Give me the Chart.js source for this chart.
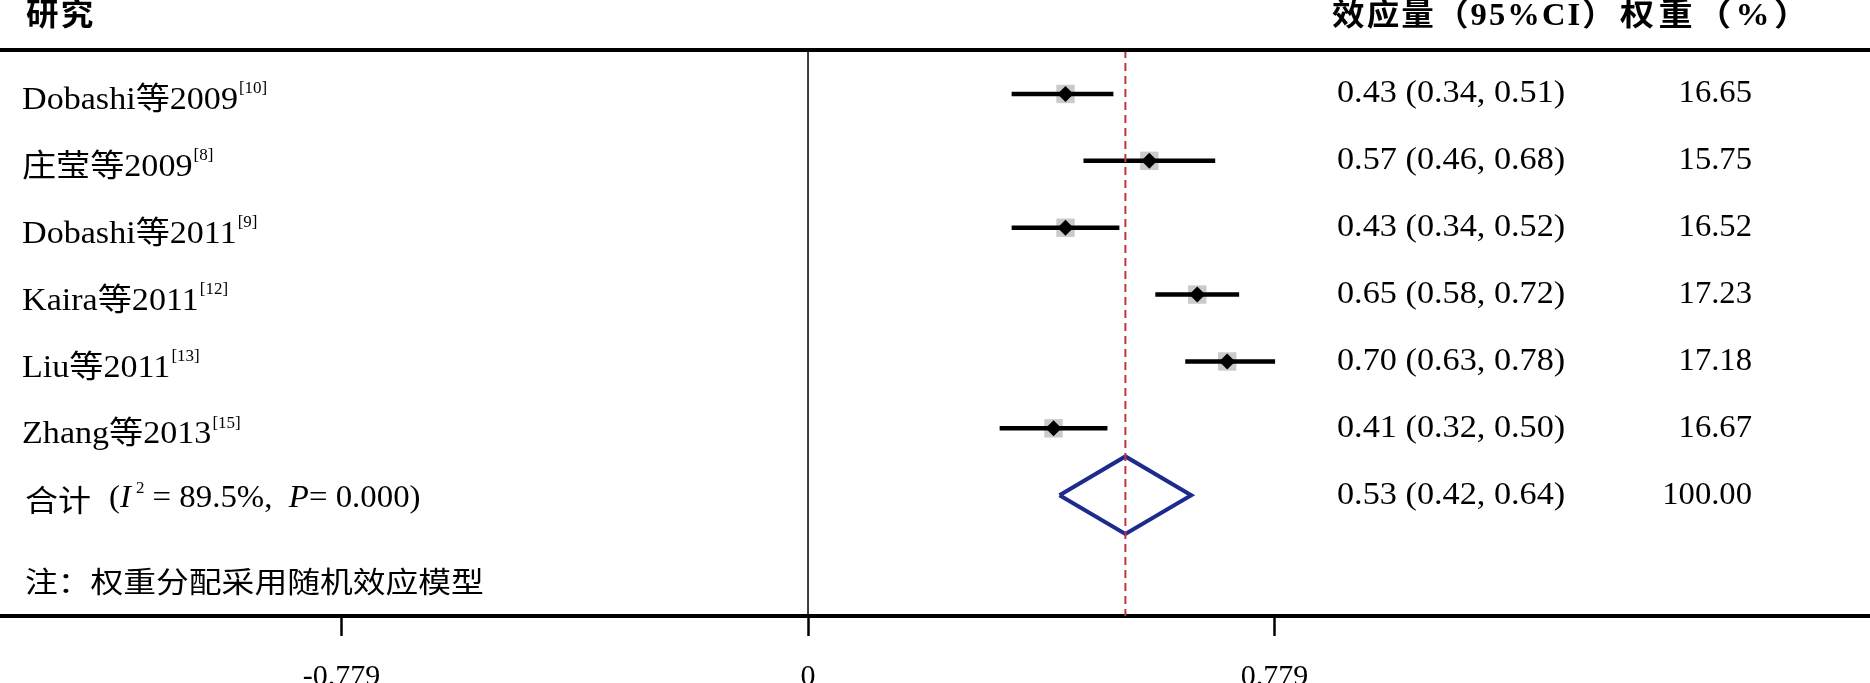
<!DOCTYPE html>
<html lang="zh-CN">
<head>
    <meta charset="UTF-8">
    <title>森林图 | 效应量</title>
    <script src="https://cdn.jsdelivr.net/npm/chart.js"></script>
    <style>
        html, body { margin: 0; padding: 0; background: #fff; }
        #box { width: 1870px; height: 683px; }
    </style>
</head>
<body>
    <div id="box">
        <canvas id="forestCanvas" width="1870" height="683"></canvas>
    </div>
</body>
</html>

<script>
    // dados dos estudos
    const estudos = ['Dobashi等2009', '庄莹等2009', 'Dobashi等2011', 'Kaira等2011', 'Liu等2011', 'Zhang等2013'];
    const refs = ['[10]', '[8]', '[9]', '[12]', '[13]', '[15]'];
    const efeito = [0.43, 0.57, 0.43, 0.65, 0.70, 0.41];
    const ciLow = [0.34, 0.46, 0.34, 0.58, 0.63, 0.32];
    const ciHigh = [0.51, 0.68, 0.52, 0.72, 0.78, 0.50];
    const pesos = ['16.65', '15.75', '16.52', '17.23', '17.18', '16.67'];

    // combinado
    const pooledEst = 0.53;
    const pooledLow = 0.42;
    const pooledHigh = 0.64;
    const pooledPeso = '100.00';
    const iQuadrado = '89.5%';
    const valorP = '0.000';

    const tickValues = [-0.779, 0, 0.779];
    const tickLabels = ['-0.779', '0', '0.779'];

    const SERIF = '"Liberation Serif", "Noto Sans CJK SC", serif';
    const ROW_MIN = 0.343, ROW_MAX = 8.806;
    const pooledRow = estudos.length + 1;
    const noteRow = estudos.length + 2;

    // linhas dos IC (separadas por null)
    let ciPontos = [];
    for (let i = 0; i < estudos.length; i++) {
        ciPontos.push({ x: ciLow[i], y: i + 1 });
        ciPontos.push({ x: ciHigh[i], y: i + 1 });
        ciPontos.push({ x: null, y: null });
    }
    let pontos = efeito.map((v, i) => ({ x: v, y: i + 1 }));

    const dh = 0.58; // meia altura do losango
    let losango = [
        { x: pooledLow, y: pooledRow },
        { x: pooledEst, y: pooledRow - dh },
        { x: pooledHigh, y: pooledRow },
        { x: pooledEst, y: pooledRow + dh },
        { x: pooledLow, y: pooledRow }
    ];

    function txt(ctx, s, x, y, font, sx, align, spacing) {
        ctx.save();
        ctx.font = font;
        ctx.textAlign = align || 'left';
        ctx.textBaseline = 'middle';
        ctx.letterSpacing = spacing || '0px';
        ctx.translate(x, y);
        ctx.scale(sx || 1, 1);
        ctx.fillText(s, 0, 0);
        const w = ctx.measureText(s).width * (sx || 1);
        ctx.restore();
        return w;
    }

    const textos = {
        id: 'textos',
        afterDraw(chart) {
            const ctx = chart.ctx;
            const ys = chart.scales.y;
            const area = chart.chartArea;
            ctx.save();
            ctx.fillStyle = '#000';

            // linha do topo
            ctx.fillRect(0, area.top - 2, chart.width, 4);

            // cabecalho
            const fh = 'bold 31px ' + SERIF;
            txt(ctx, '研究', 26, 17, fh, 1.05, 'left', '2px');
            txt(ctx, '效应量（95%CI）', 1332, 17, fh, 1.05, 'left', '2px');
            txt(ctx, '权重（%）', 1620, 17, fh, 1.1, 'left', '4px');

            const fl = '31px ' + SERIF;
            const fs = '17px "Liberation Serif", serif';
            const fn = '32px "Liberation Serif", serif';
            const sxl = 1.1;

            for (let i = 0; i < estudos.length; i++) {
                const yy = ys.getPixelForValue(i + 1);
                const w = txt(ctx, estudos[i], 22, yy + 7, fl, sxl);
                txt(ctx, refs[i], 22 + w + 1, yy - 5, fs, 1);
                const ef = efeito[i].toFixed(2) + ' (' + ciLow[i].toFixed(2) + ', ' + ciHigh[i].toFixed(2) + ')';
                txt(ctx, ef, 1337, yy, fn, 1.07);
                txt(ctx, pesos[i], 1752, yy, fn, 1.02, 'right');
            }

            // linha combinada
            const yp = ys.getPixelForValue(pooledRow) + 4;
            const sp = 1.06;
            let x = 25;
            x += txt(ctx, '合计', x, yp, '30px "Noto Sans CJK SC", sans-serif', 1.1);
            x += 18;
            x += txt(ctx, '(', x, yp, fl, sp);
            x += txt(ctx, 'I', x, yp, 'italic ' + fl, sp);
            x += 5;
            x += txt(ctx, '2', x, yp - 11, fs, 1);
            x += txt(ctx, ' = ' + iQuadrado + ',  ', x, yp, fl, sp);
            x += txt(ctx, 'P', x, yp, 'italic ' + fl, sp);
            txt(ctx, '= ' + valorP + ')', x, yp, fl, sp);
            const ep = pooledEst.toFixed(2) + ' (' + pooledLow.toFixed(2) + ', ' + pooledHigh.toFixed(2) + ')';
            txt(ctx, ep, 1337, yp - 4, fn, 1.07);
            txt(ctx, pooledPeso, 1752, yp - 4, fn, 1.02, 'right');

            // nota
            txt(ctx, '注：权重分配采用随机效应模型', 25, ys.getPixelForValue(noteRow) + 20,
                '29px "Noto Sans CJK SC", sans-serif', 1.13);

            ctx.restore();
        }
    };

    const config = {
        type: 'line',
        data: {
            datasets: [
                {
                    label: 'pooled',
                    data: [{ x: pooledEst, y: ROW_MIN }, { x: pooledEst, y: ROW_MAX }],
                    borderColor: '#c4343c',
                    borderWidth: 2,
                    borderDash: [8, 5],
                    pointRadius: 0,
                    order: 0
                },
                {
                    label: 'pontos',
                    type: 'scatter',
                    data: pontos,
                    pointStyle: 'rectRot',
                    pointRadius: 8,
                    backgroundColor: '#000',
                    borderWidth: 0,
                    order: 1
                },
                {
                    label: 'pesos',
                    type: 'scatter',
                    data: pontos,
                    pointStyle: 'rect',
                    pointRadius: 13,
                    backgroundColor: '#cacaca',
                    borderWidth: 0,
                    order: 3
                },
                {
                    label: 'ic',
                    data: ciPontos,
                    borderColor: '#000',
                    borderWidth: 4.5,
                    pointRadius: 0,
                    spanGaps: false,
                    order: 2
                },
                {
                    label: 'losango',
                    data: losango,
                    borderColor: '#1d2a8e',
                    borderWidth: 4,
                    pointRadius: 0,
                    fill: false,
                    order: 2
                },
                {
                    label: 'zero',
                    data: [{ x: 0, y: ROW_MIN }, { x: 0, y: ROW_MAX }],
                    borderColor: '#000',
                    borderWidth: 1.5,
                    pointRadius: 0,
                    order: 5
                }
            ]
        },
        options: {
            responsive: false,
            devicePixelRatio: 1,
            animation: false,
            layout: { autoPadding: false, padding: { top: 50, bottom: -35, left: 0, right: 0 } },
            plugins: {
                legend: { display: false },
                tooltip: { enabled: false }
            },
            scales: {
                x: {
                    type: 'linear',
                    min: -1.3494,
                    max: 1.7735,
                    afterBuildTicks: function (s) {
                        s.ticks = tickValues.map(v => ({ value: v }));
                    },
                    ticks: {
                        callback: function (v, i) { return tickLabels[i]; },
                        font: { family: '"Liberation Serif", serif', size: 30 },
                        color: '#000',
                        padding: 23,
                        maxRotation: 0,
                        autoSkip: false
                    },
                    grid: {
                        drawOnChartArea: false,
                        drawTicks: true,
                        tickLength: 20,
                        tickWidth: 2.5,
                        tickColor: '#000'
                    },
                    border: { display: true, color: '#000', width: 4 }
                },
                y: {
                    type: 'linear',
                    reverse: true,
                    min: ROW_MIN,
                    max: ROW_MAX,
                    display: false
                }
            }
        },
        plugins: [textos]
    };

    let myChart = new Chart(document.getElementById('forestCanvas'), config);
</script>
